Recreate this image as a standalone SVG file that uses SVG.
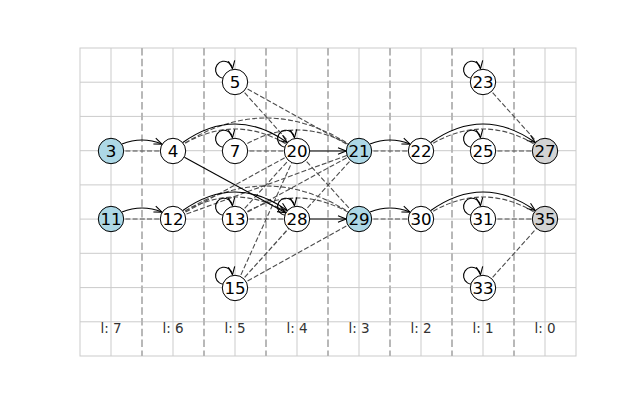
<svg xmlns="http://www.w3.org/2000/svg" width="640" height="400" viewBox="0 0 640 400">
<defs>
<style>
.grid{stroke:#cbcbcb;stroke-width:1;fill:none}
.sep{stroke:#b8b8b8;stroke-width:2;stroke-dasharray:7.5 3.3;fill:none}
.d{stroke:#4d4d4d;stroke-width:1.1;stroke-dasharray:5 2.2;fill:none}
.s{stroke:#000;stroke-width:1.1;fill:none;marker-end:url(#ah)}
.n circle{stroke:#000;stroke-width:1;fill:#fff}
.n text{font-family:"DejaVu Sans",sans-serif;font-size:16.7px;text-anchor:middle;fill:#000}
.lv{font-family:"DejaVu Sans",sans-serif;font-size:13.5px;text-anchor:middle;fill:#333}
.blue circle{fill:#add8e6}
.gray circle{fill:#d3d3d3}
</style>
<marker id="ah" viewBox="-1 -5 10 10" refX="8" refY="0" markerWidth="10" markerHeight="10" markerUnits="userSpaceOnUse" orient="auto">
<path d="M0,-3.2 L8,0 L0,3.2" fill="none" stroke="#000" stroke-width="1.1"/>
</marker>
</defs>
<rect width="640" height="400" fill="#fff"/>
<g id="grid">
<rect class="grid" x="80" y="48" width="496" height="308"/>
<path class="grid" d="M111,48V356M173,48V356M235,48V356M297,48V356M359,48V356M421,48V356M483,48V356M545,48V356"/>
<path class="grid" d="M80,82.2H576M80,116.4H576M80,150.7H576M80,184.9H576M80,219.1H576M80,253.3H576M80,287.6H576M80,321.8H576"/>
<path class="sep" d="M142,48V356M204,48V356M266,48V356M328,48V356M390,48V356M452,48V356M514,48V356"/>
</g>
<g id="levels">
<text class="lv" x="111" y="333">l: 7</text>
<text class="lv" x="173" y="333">l: 6</text>
<text class="lv" x="235" y="333">l: 5</text>
<text class="lv" x="297" y="333">l: 4</text>
<text class="lv" x="359" y="333">l: 3</text>
<text class="lv" x="421" y="333">l: 2</text>
<text class="lv" x="483" y="333">l: 1</text>
<text class="lv" x="545" y="333">l: 0</text>
</g>
<g id="connectors">
<path class="d" d="M111,151H173M111,219H173M235,151H297M235,219H297M359,151H421M359,219H421M483,151H545M483,219H545"/>
<path class="d" d="M483,82L545,151M483,288L545,219"/>
<path class="d" d="M235,82L297,151M235,82L359,151M297,151L359,219"/>
<path class="d" d="M235,288L297,151M235,288L359,151M235,288L297,219M235,288L359,219"/>
<path class="d" d="M173,219L297,151M173,219L359,151M235,219L297,151M235,219L359,151"/>
<path class="d" d="M173,151Q235,107 297,151M173,151Q266,85 359,151M235,151Q297,109 359,151M421,151Q483,107 545,151"/>
<path class="d" d="M173,219Q235,175 297,219M173,219Q266,153 359,219M235,219Q297,177 359,219M421,219Q483,175 545,219"/>
<path class="s" d="M122,144.1Q142,136 162,144.1"/>
<path class="s" d="M182.8,142.5Q235,105.5 287.2,142.5"/>
<path class="s" d="M184.4,157.3L285.6,212.7"/>
<path class="s" d="M310,151H346"/>
<path class="s" d="M370,144.1Q390,136 410,144.1"/>
<path class="s" d="M430.8,142.5Q483,105.5 535.2,142.5"/>
<path class="s" d="M122,212.1Q142,204 162,212.1"/>
<path class="s" d="M182.8,210.5Q235,173.5 287.2,210.5"/>
<path class="s" d="M310,219H346"/>
<path class="s" d="M370,212.1Q390,204 410,212.1"/>
<path class="s" d="M430.8,210.5Q483,173.5 535.2,210.5"/>
<path class="s" d="M226,78A8.5,8.5 0 1 1 232.5,68.7"/>
<path class="s" d="M226,147A8.5,8.5 0 1 1 232.5,137.7"/>
<path class="s" d="M288,147A8.5,8.5 0 1 1 294.5,137.7"/>
<path class="s" d="M226,215A8.5,8.5 0 1 1 232.5,205.7"/>
<path class="s" d="M288,215A8.5,8.5 0 1 1 294.5,205.7"/>
<path class="s" d="M226,284A8.5,8.5 0 1 1 232.5,274.7"/>
<path class="s" d="M474,78A8.5,8.5 0 1 1 480.5,68.7"/>
<path class="s" d="M474,147A8.5,8.5 0 1 1 480.5,137.7"/>
<path class="s" d="M474,215A8.5,8.5 0 1 1 480.5,205.7"/>
<path class="s" d="M474,284A8.5,8.5 0 1 1 480.5,274.7"/>
</g>
<g id="node-3" class="n blue"><circle cx="111" cy="151" r="12.7"/><text x="111" y="157">3</text></g>
<g id="node-4" class="n"><circle cx="173" cy="151" r="12.7"/><text x="173" y="157">4</text></g>
<g id="node-5" class="n"><circle cx="235" cy="82" r="12.7"/><text x="235" y="88">5</text></g>
<g id="node-7" class="n"><circle cx="235" cy="151" r="12.7"/><text x="235" y="157">7</text></g>
<g id="node-20" class="n"><circle cx="297" cy="151" r="12.7"/><text x="297" y="157">20</text></g>
<g id="node-21" class="n blue"><circle cx="359" cy="151" r="12.7"/><text x="359" y="157">21</text></g>
<g id="node-22" class="n"><circle cx="421" cy="151" r="12.7"/><text x="421" y="157">22</text></g>
<g id="node-23" class="n"><circle cx="483" cy="82" r="12.7"/><text x="483" y="88">23</text></g>
<g id="node-25" class="n"><circle cx="483" cy="151" r="12.7"/><text x="483" y="157">25</text></g>
<g id="node-27" class="n gray"><circle cx="545" cy="151" r="12.7"/><text x="545" y="157">27</text></g>
<g id="node-11" class="n blue"><circle cx="111" cy="219" r="12.7"/><text x="111" y="225">11</text></g>
<g id="node-12" class="n"><circle cx="173" cy="219" r="12.7"/><text x="173" y="225">12</text></g>
<g id="node-13" class="n"><circle cx="235" cy="219" r="12.7"/><text x="235" y="225">13</text></g>
<g id="node-15" class="n"><circle cx="235" cy="288" r="12.7"/><text x="235" y="294">15</text></g>
<g id="node-28" class="n"><circle cx="297" cy="219" r="12.7"/><text x="297" y="225">28</text></g>
<g id="node-29" class="n blue"><circle cx="359" cy="219" r="12.7"/><text x="359" y="225">29</text></g>
<g id="node-30" class="n"><circle cx="421" cy="219" r="12.7"/><text x="421" y="225">30</text></g>
<g id="node-31" class="n"><circle cx="483" cy="219" r="12.7"/><text x="483" y="225">31</text></g>
<g id="node-33" class="n"><circle cx="483" cy="288" r="12.7"/><text x="483" y="294">33</text></g>
<g id="node-35" class="n gray"><circle cx="545" cy="219" r="12.7"/><text x="545" y="225">35</text></g>
</svg>
